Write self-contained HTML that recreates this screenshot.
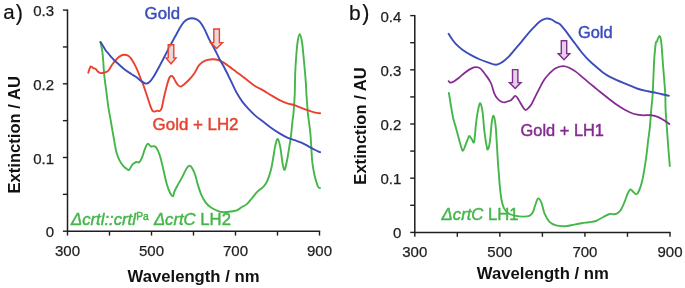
<!DOCTYPE html>
<html><head><meta charset="utf-8"><style>
html,body{margin:0;padding:0;background:#fff;}
svg{display:block;filter:blur(0.3px);}
text{font-family:"Liberation Sans",sans-serif;}
</style></head><body>
<svg width="685" height="288" viewBox="0 0 685 288">
<line x1="62.90" y1="231.20" x2="67.50" y2="231.20" stroke="#1e1e1e" stroke-width="1.4"/>
<line x1="62.90" y1="194.35" x2="67.50" y2="194.35" stroke="#1e1e1e" stroke-width="1.4"/>
<line x1="62.90" y1="157.50" x2="67.50" y2="157.50" stroke="#1e1e1e" stroke-width="1.4"/>
<line x1="62.90" y1="120.65" x2="67.50" y2="120.65" stroke="#1e1e1e" stroke-width="1.4"/>
<line x1="62.90" y1="83.80" x2="67.50" y2="83.80" stroke="#1e1e1e" stroke-width="1.4"/>
<line x1="62.90" y1="46.95" x2="67.50" y2="46.95" stroke="#1e1e1e" stroke-width="1.4"/>
<line x1="62.90" y1="10.10" x2="67.50" y2="10.10" stroke="#1e1e1e" stroke-width="1.4"/>
<text x="54.00" y="237.20" font-size="15" text-anchor="end" stroke="#1e1e1e" stroke-width="0.25" fill="#1e1e1e">0</text>
<text x="54.00" y="163.50" font-size="15" text-anchor="end" stroke="#1e1e1e" stroke-width="0.25" fill="#1e1e1e">0.1</text>
<text x="54.00" y="89.80" font-size="15" text-anchor="end" stroke="#1e1e1e" stroke-width="0.25" fill="#1e1e1e">0.2</text>
<text x="54.00" y="16.10" font-size="15" text-anchor="end" stroke="#1e1e1e" stroke-width="0.25" fill="#1e1e1e">0.3</text>
<line x1="67.50" y1="231.20" x2="67.50" y2="235.60" stroke="#1e1e1e" stroke-width="1.4"/>
<line x1="109.50" y1="231.20" x2="109.50" y2="235.60" stroke="#1e1e1e" stroke-width="1.4"/>
<line x1="151.50" y1="231.20" x2="151.50" y2="235.60" stroke="#1e1e1e" stroke-width="1.4"/>
<line x1="193.50" y1="231.20" x2="193.50" y2="235.60" stroke="#1e1e1e" stroke-width="1.4"/>
<line x1="235.50" y1="231.20" x2="235.50" y2="235.60" stroke="#1e1e1e" stroke-width="1.4"/>
<line x1="277.50" y1="231.20" x2="277.50" y2="235.60" stroke="#1e1e1e" stroke-width="1.4"/>
<line x1="319.50" y1="231.20" x2="319.50" y2="235.60" stroke="#1e1e1e" stroke-width="1.4"/>
<text x="67.50" y="256.00" font-size="15" text-anchor="middle" stroke="#1e1e1e" stroke-width="0.25" fill="#1e1e1e">300</text>
<text x="151.50" y="256.00" font-size="15" text-anchor="middle" stroke="#1e1e1e" stroke-width="0.25" fill="#1e1e1e">500</text>
<text x="235.50" y="256.00" font-size="15" text-anchor="middle" stroke="#1e1e1e" stroke-width="0.25" fill="#1e1e1e">700</text>
<text x="319.50" y="256.00" font-size="15" text-anchor="middle" stroke="#1e1e1e" stroke-width="0.25" fill="#1e1e1e">900</text>
<path d="M67.50 9.40 V231.20 H320.20" fill="none" stroke="#1e1e1e" stroke-width="1.5"/>
<text x="193.50" y="282.20" font-size="16.7" font-weight="bold" text-anchor="middle" fill="#111">Wavelength / nm</text>
<text transform="translate(20.20 134.80) rotate(-90)" font-size="16.6" font-weight="bold" text-anchor="middle" fill="#111">Extinction / AU</text>
<line x1="410.20" y1="232.40" x2="414.80" y2="232.40" stroke="#1e1e1e" stroke-width="1.4"/>
<line x1="410.20" y1="205.30" x2="414.80" y2="205.30" stroke="#1e1e1e" stroke-width="1.4"/>
<line x1="410.20" y1="178.20" x2="414.80" y2="178.20" stroke="#1e1e1e" stroke-width="1.4"/>
<line x1="410.20" y1="151.10" x2="414.80" y2="151.10" stroke="#1e1e1e" stroke-width="1.4"/>
<line x1="410.20" y1="124.00" x2="414.80" y2="124.00" stroke="#1e1e1e" stroke-width="1.4"/>
<line x1="410.20" y1="96.90" x2="414.80" y2="96.90" stroke="#1e1e1e" stroke-width="1.4"/>
<line x1="410.20" y1="69.80" x2="414.80" y2="69.80" stroke="#1e1e1e" stroke-width="1.4"/>
<line x1="410.20" y1="42.70" x2="414.80" y2="42.70" stroke="#1e1e1e" stroke-width="1.4"/>
<line x1="410.20" y1="15.60" x2="414.80" y2="15.60" stroke="#1e1e1e" stroke-width="1.4"/>
<text x="401.40" y="238.40" font-size="15" text-anchor="end" stroke="#1e1e1e" stroke-width="0.25" fill="#1e1e1e">0</text>
<text x="401.40" y="184.20" font-size="15" text-anchor="end" stroke="#1e1e1e" stroke-width="0.25" fill="#1e1e1e">0.1</text>
<text x="401.40" y="130.00" font-size="15" text-anchor="end" stroke="#1e1e1e" stroke-width="0.25" fill="#1e1e1e">0.2</text>
<text x="401.40" y="75.80" font-size="15" text-anchor="end" stroke="#1e1e1e" stroke-width="0.25" fill="#1e1e1e">0.3</text>
<text x="401.40" y="21.60" font-size="15" text-anchor="end" stroke="#1e1e1e" stroke-width="0.25" fill="#1e1e1e">0.4</text>
<line x1="414.80" y1="232.40" x2="414.80" y2="236.80" stroke="#1e1e1e" stroke-width="1.4"/>
<line x1="457.33" y1="232.40" x2="457.33" y2="236.80" stroke="#1e1e1e" stroke-width="1.4"/>
<line x1="499.87" y1="232.40" x2="499.87" y2="236.80" stroke="#1e1e1e" stroke-width="1.4"/>
<line x1="542.40" y1="232.40" x2="542.40" y2="236.80" stroke="#1e1e1e" stroke-width="1.4"/>
<line x1="584.93" y1="232.40" x2="584.93" y2="236.80" stroke="#1e1e1e" stroke-width="1.4"/>
<line x1="627.47" y1="232.40" x2="627.47" y2="236.80" stroke="#1e1e1e" stroke-width="1.4"/>
<line x1="670.00" y1="232.40" x2="670.00" y2="236.80" stroke="#1e1e1e" stroke-width="1.4"/>
<text x="414.80" y="257.40" font-size="15" text-anchor="middle" stroke="#1e1e1e" stroke-width="0.25" fill="#1e1e1e">300</text>
<text x="499.87" y="257.40" font-size="15" text-anchor="middle" stroke="#1e1e1e" stroke-width="0.25" fill="#1e1e1e">500</text>
<text x="584.93" y="257.40" font-size="15" text-anchor="middle" stroke="#1e1e1e" stroke-width="0.25" fill="#1e1e1e">700</text>
<text x="670.00" y="257.40" font-size="15" text-anchor="middle" stroke="#1e1e1e" stroke-width="0.25" fill="#1e1e1e">900</text>
<path d="M414.80 14.90 V232.40 H670.70" fill="none" stroke="#1e1e1e" stroke-width="1.5"/>
<text x="542.80" y="279.00" font-size="16.7" font-weight="bold" text-anchor="middle" fill="#111">Wavelength / nm</text>
<text transform="translate(366.20 126.00) rotate(-90)" font-size="16.6" font-weight="bold" text-anchor="middle" fill="#111">Extinction / AU</text>
<text x="3.2" y="19.2" font-size="20.5" fill="#111" stroke="#111" stroke-width="0.2">a<tspan dx="1.2" dy="0.3" font-size="21.5">)</tspan></text>
<text x="349.1" y="19.7" font-size="21" fill="#111" stroke="#111" stroke-width="0.2">b<tspan dx="1.5" dy="0.1" font-size="21.5">)</tspan></text>
<path d="M100.50 42.10 C100.80 43.63 101.83 47.98 102.30 51.30 C102.77 54.62 103.05 58.88 103.30 62.00 C103.55 65.12 103.56 67.05 103.80 70.00 C104.04 72.95 104.37 76.47 104.75 79.70 C105.13 82.93 105.67 86.15 106.10 89.40 C106.52 92.65 106.88 95.95 107.30 99.20 C107.72 102.45 108.08 105.67 108.60 108.90 C109.12 112.13 109.87 115.58 110.40 118.60 C110.93 121.62 111.32 124.22 111.80 127.00 C112.28 129.78 112.83 132.65 113.30 135.30 C113.77 137.95 114.07 140.03 114.60 142.90 C115.13 145.77 115.70 149.63 116.50 152.50 C117.30 155.37 118.28 157.88 119.40 160.10 C120.52 162.32 121.83 164.23 123.20 165.80 C124.57 167.37 126.60 168.83 127.60 169.50 C128.60 170.17 128.50 170.47 129.20 169.80 C129.90 169.13 131.07 166.53 131.80 165.50 C132.53 164.47 132.87 164.18 133.60 163.60 C134.33 163.02 135.25 162.23 136.20 162.00 C137.15 161.77 138.30 163.02 139.30 162.20 C140.30 161.38 141.35 159.07 142.20 157.10 C143.05 155.13 143.65 152.43 144.40 150.40 C145.15 148.37 146.07 146.00 146.70 144.90 C147.33 143.80 147.47 143.53 148.20 143.80 C148.93 144.07 150.13 146.10 151.10 146.50 C152.07 146.90 153.07 145.92 154.00 146.20 C154.93 146.48 155.70 146.57 156.70 148.20 C157.70 149.83 158.90 152.48 160.00 156.00 C161.10 159.52 162.18 164.67 163.30 169.30 C164.42 173.93 165.58 179.90 166.70 183.80 C167.82 187.70 168.95 190.62 170.00 192.70 C171.05 194.78 172.27 196.48 173.00 196.30 C173.73 196.12 173.60 193.50 174.40 191.60 C175.20 189.70 176.50 187.32 177.80 184.90 C179.10 182.48 180.72 179.88 182.20 177.10 C183.68 174.32 185.45 170.08 186.70 168.20 C187.95 166.32 188.78 165.80 189.70 165.80 C190.62 165.80 191.27 166.63 192.20 168.20 C193.13 169.77 194.40 172.58 195.30 175.20 C196.20 177.82 196.63 180.72 197.60 183.90 C198.57 187.08 199.80 191.27 201.10 194.30 C202.40 197.33 203.82 199.93 205.40 202.10 C206.98 204.27 208.57 205.85 210.60 207.30 C212.63 208.75 215.43 209.98 217.60 210.80 C219.77 211.62 221.58 212.05 223.60 212.20 C225.62 212.35 227.52 212.02 229.70 211.70 C231.88 211.38 234.67 211.08 236.70 210.30 C238.73 209.52 240.17 208.07 241.90 207.00 C243.63 205.93 245.37 205.43 247.10 203.90 C248.83 202.37 250.57 199.83 252.30 197.80 C254.03 195.77 255.77 193.43 257.50 191.70 C259.23 189.97 261.25 188.85 262.70 187.40 C264.15 185.95 265.18 184.75 266.20 183.00 C267.22 181.25 267.93 179.40 268.80 176.90 C269.67 174.40 270.60 171.57 271.40 168.00 C272.20 164.43 272.93 159.33 273.60 155.50 C274.27 151.67 274.70 147.77 275.40 145.00 C276.10 142.23 276.97 138.43 277.80 138.90 C278.63 139.37 279.60 143.70 280.40 147.80 C281.20 151.90 281.88 159.83 282.60 163.50 C283.32 167.17 283.92 170.55 284.70 169.80 C285.48 169.05 286.48 163.13 287.30 159.00 C288.12 154.87 289.00 148.72 289.60 145.00 C290.20 141.28 290.40 140.87 290.90 136.70 C291.40 132.53 292.18 123.73 292.60 120.00 C293.02 116.27 293.05 118.47 293.40 114.30 C293.75 110.13 294.40 101.78 294.70 95.00 C295.00 88.22 294.95 80.00 295.20 73.60 C295.45 67.20 295.80 61.87 296.20 56.60 C296.60 51.33 297.03 45.73 297.60 42.00 C298.17 38.27 298.87 34.20 299.60 34.20 C300.33 34.20 301.27 37.45 302.00 42.00 C302.73 46.55 303.38 55.02 304.00 61.50 C304.62 67.98 305.28 75.32 305.70 80.90 C306.12 86.48 306.12 89.43 306.50 95.00 C306.88 100.57 307.35 107.84 308.00 114.30 C308.65 120.76 309.72 126.13 310.40 133.75 C311.08 141.37 311.57 153.88 312.10 160.00 C312.63 166.12 313.07 167.45 313.60 170.50 C314.13 173.55 314.57 175.60 315.30 178.30 C316.03 181.00 317.22 185.08 318.00 186.70 C318.78 188.32 319.67 187.78 320.00 188.00" fill="none" stroke="#45b64a" stroke-width="1.90" stroke-linejoin="round" stroke-linecap="round"/>
<path d="M88.30 72.70 C88.60 71.80 89.60 68.32 90.10 67.30 C90.60 66.28 90.78 66.47 91.30 66.60 C91.82 66.73 92.50 67.73 93.20 68.10 C93.90 68.47 94.74 68.25 95.50 68.80 C96.26 69.35 96.87 70.68 97.75 71.40 C98.63 72.12 99.77 72.88 100.80 73.10 C101.83 73.32 102.63 73.12 103.90 72.70 C105.17 72.28 107.03 71.92 108.40 70.60 C109.77 69.28 110.62 66.83 112.10 64.80 C113.58 62.77 115.82 59.93 117.30 58.40 C118.78 56.87 119.83 56.22 121.00 55.60 C122.17 54.98 123.10 54.68 124.30 54.70 C125.50 54.72 127.03 55.00 128.20 55.70 C129.37 56.40 130.27 57.50 131.30 58.90 C132.33 60.30 133.45 62.37 134.40 64.10 C135.35 65.83 136.22 67.57 137.00 69.30 C137.78 71.03 138.40 72.72 139.10 74.50 C139.80 76.28 140.62 78.62 141.20 80.00 C141.78 81.38 141.93 81.05 142.60 82.80 C143.27 84.55 144.32 87.88 145.20 90.50 C146.08 93.12 147.02 95.85 147.90 98.50 C148.78 101.15 149.73 104.35 150.50 106.40 C151.27 108.45 151.72 109.97 152.50 110.80 C153.28 111.63 154.43 111.43 155.20 111.40 C155.97 111.37 156.33 110.67 157.10 110.60 C157.87 110.53 159.02 111.48 159.80 111.00 C160.58 110.52 161.15 109.78 161.80 107.70 C162.45 105.62 162.96 101.80 163.70 98.50 C164.44 95.20 165.48 90.88 166.25 87.90 C167.02 84.92 167.69 82.43 168.30 80.60 C168.91 78.77 169.37 77.68 169.90 76.90 C170.43 76.12 170.98 75.90 171.50 75.90 C172.02 75.90 172.40 76.12 173.00 76.90 C173.60 77.68 174.32 79.29 175.10 80.60 C175.88 81.91 176.83 83.75 177.70 84.75 C178.57 85.75 179.43 86.51 180.30 86.60 C181.17 86.69 181.95 85.95 182.90 85.30 C183.85 84.65 184.78 83.83 186.00 82.70 C187.22 81.57 188.80 80.07 190.20 78.50 C191.60 76.93 193.00 75.42 194.40 73.30 C195.80 71.18 197.28 67.65 198.60 65.80 C199.92 63.95 200.82 63.18 202.30 62.20 C203.78 61.22 205.63 60.40 207.50 59.90 C209.37 59.40 211.70 59.18 213.50 59.20 C215.30 59.22 216.92 59.60 218.30 60.00 C219.68 60.40 220.42 60.83 221.80 61.60 C223.18 62.37 224.98 63.50 226.60 64.60 C228.22 65.70 229.87 66.98 231.50 68.20 C233.13 69.42 234.78 70.70 236.40 71.90 C238.02 73.10 239.67 74.25 241.20 75.40 C242.73 76.55 243.30 77.03 245.60 78.80 C247.90 80.57 252.05 84.07 255.00 86.00 C257.95 87.93 260.52 88.80 263.30 90.40 C266.08 92.00 268.92 93.95 271.70 95.60 C274.48 97.25 277.40 99.00 280.00 100.30 C282.60 101.60 284.87 102.60 287.30 103.40 C289.73 104.20 292.17 104.30 294.60 105.10 C297.03 105.90 299.47 107.27 301.90 108.20 C304.33 109.13 306.98 109.97 309.20 110.70 C311.42 111.43 313.38 112.17 315.20 112.60 C317.02 113.03 319.28 113.18 320.10 113.30" fill="none" stroke="#e8422e" stroke-width="1.90" stroke-linejoin="round" stroke-linecap="round"/>
<path d="M100.50 42.10 C100.77 42.48 101.25 43.05 102.10 44.40 C102.95 45.75 104.50 48.60 105.60 50.20 C106.70 51.80 107.72 52.82 108.70 54.00 C109.68 55.18 110.62 56.30 111.50 57.30 C112.38 58.30 113.03 59.05 114.00 60.00 C114.97 60.95 115.63 61.52 117.30 63.00 C118.97 64.48 121.67 67.07 124.00 68.90 C126.33 70.73 129.22 72.62 131.30 74.00 C133.38 75.38 134.82 76.00 136.50 77.20 C138.18 78.40 139.83 80.13 141.40 81.20 C142.97 82.27 144.60 83.42 145.90 83.60 C147.20 83.78 147.98 83.35 149.20 82.30 C150.42 81.25 151.38 80.18 153.20 77.30 C155.02 74.42 157.82 69.22 160.10 65.00 C162.38 60.78 165.07 55.52 166.90 52.00 C168.73 48.48 169.70 46.52 171.10 43.90 C172.50 41.28 173.92 38.83 175.30 36.30 C176.68 33.77 178.02 31.02 179.40 28.70 C180.78 26.38 182.20 23.98 183.60 22.40 C185.00 20.82 186.42 19.90 187.80 19.20 C189.18 18.50 190.52 18.20 191.90 18.20 C193.28 18.20 194.70 18.50 196.10 19.20 C197.50 19.90 198.88 20.70 200.30 22.40 C201.72 24.10 203.12 26.57 204.60 29.40 C206.08 32.23 207.57 36.17 209.20 39.40 C210.83 42.62 212.67 45.45 214.40 48.75 C216.13 52.05 217.87 55.91 219.60 59.20 C221.33 62.49 223.07 65.20 224.80 68.50 C226.53 71.80 228.40 75.70 230.00 79.00 C231.60 82.30 233.02 85.53 234.40 88.30 C235.78 91.07 236.95 93.33 238.30 95.60 C239.65 97.87 240.76 99.63 242.50 101.90 C244.24 104.17 246.67 106.95 248.75 109.20 C250.83 111.45 252.57 113.32 255.00 115.40 C257.43 117.48 260.52 119.57 263.30 121.70 C266.08 123.83 268.92 126.22 271.70 128.20 C274.48 130.18 277.40 132.03 280.00 133.60 C282.60 135.17 284.87 136.50 287.30 137.60 C289.73 138.70 292.17 139.33 294.60 140.20 C297.03 141.07 299.47 141.70 301.90 142.80 C304.33 143.90 306.98 145.60 309.20 146.80 C311.42 148.00 313.38 149.10 315.20 150.00 C317.02 150.90 319.28 151.83 320.10 152.20" fill="none" stroke="#3a4dbb" stroke-width="1.90" stroke-linejoin="round" stroke-linecap="round"/>
<path d="M448.90 92.90 C449.22 94.92 450.08 100.75 450.80 105.00 C451.52 109.25 452.38 114.75 453.20 118.40 C454.02 122.05 454.80 123.67 455.70 126.90 C456.60 130.13 457.72 134.57 458.60 137.80 C459.48 141.03 460.27 144.15 461.00 146.30 C461.73 148.45 462.18 151.10 463.00 150.70 C463.82 150.30 465.02 146.05 465.90 143.90 C466.78 141.75 467.70 139.10 468.30 137.80 C468.90 136.50 468.88 135.82 469.50 136.10 C470.12 136.38 471.22 138.57 472.00 139.50 C472.78 140.43 473.52 144.48 474.20 141.70 C474.88 138.92 475.42 128.27 476.10 122.80 C476.78 117.33 477.60 112.15 478.30 108.90 C479.00 105.65 479.60 102.83 480.30 103.30 C481.00 103.77 481.82 107.07 482.50 111.70 C483.18 116.33 483.70 125.32 484.40 131.10 C485.10 136.88 486.10 143.38 486.70 146.40 C487.30 149.42 487.45 150.13 488.00 149.20 C488.55 148.27 489.38 145.20 490.00 140.80 C490.62 136.40 491.10 126.97 491.70 122.80 C492.30 118.63 492.95 115.33 493.60 115.80 C494.25 116.27 495.05 120.73 495.60 125.60 C496.15 130.47 496.52 138.93 496.90 145.00 C497.28 151.07 497.57 157.07 497.90 162.00 C498.23 166.93 498.53 170.07 498.90 174.60 C499.27 179.13 499.62 184.75 500.10 189.20 C500.58 193.65 501.12 198.07 501.80 201.30 C502.48 204.53 503.07 206.57 504.20 208.60 C505.33 210.63 506.65 212.28 508.60 213.50 C510.55 214.72 513.47 215.38 515.90 215.90 C518.33 216.42 520.98 216.60 523.20 216.60 C525.42 216.60 527.58 216.62 529.20 215.90 C530.82 215.18 531.88 214.12 532.90 212.30 C533.92 210.48 534.42 207.32 535.30 205.00 C536.18 202.68 537.18 198.82 538.20 198.40 C539.22 197.98 540.35 200.02 541.40 202.50 C542.45 204.98 543.15 210.08 544.50 213.30 C545.85 216.52 547.58 219.80 549.50 221.80 C551.42 223.80 553.58 224.57 556.00 225.30 C558.42 226.03 562.13 226.08 564.00 226.20 C565.87 226.32 565.47 226.27 567.20 226.00 C568.93 225.73 571.98 225.05 574.40 224.60 C576.82 224.15 579.28 223.70 581.70 223.30 C584.12 222.90 586.50 222.58 588.90 222.20 C591.30 221.82 593.70 221.87 596.10 221.00 C598.50 220.13 601.05 218.17 603.30 217.00 C605.55 215.83 607.78 214.45 609.60 214.00 C611.42 213.55 612.83 214.48 614.20 214.30 C615.57 214.12 616.60 213.80 617.80 212.90 C619.00 212.00 620.20 210.92 621.40 208.90 C622.60 206.88 623.95 203.37 625.00 200.80 C626.05 198.23 626.78 195.40 627.70 193.50 C628.62 191.60 629.60 189.70 630.50 189.40 C631.40 189.10 632.13 190.87 633.10 191.70 C634.07 192.53 635.33 194.52 636.30 194.40 C637.27 194.28 637.95 193.12 638.90 191.00 C639.85 188.88 641.02 185.68 642.00 181.70 C642.98 177.72 643.95 171.97 644.75 167.10 C645.55 162.23 646.22 157.02 646.80 152.50 C647.38 147.98 647.71 144.05 648.20 140.00 C648.69 135.95 649.23 133.35 649.75 128.20 C650.27 123.05 650.82 114.63 651.30 109.10 C651.77 103.57 652.13 102.93 652.60 95.00 C653.07 87.07 653.65 69.52 654.10 61.50 C654.55 53.48 654.97 50.15 655.30 46.90 C655.63 43.65 655.82 42.88 656.10 42.00 C656.38 41.12 656.72 42.10 657.00 41.60 C657.28 41.10 657.40 39.93 657.80 39.00 C658.20 38.07 658.88 35.90 659.40 36.00 C659.92 36.10 660.48 37.38 660.90 39.60 C661.32 41.82 661.53 44.85 661.90 49.30 C662.27 53.75 662.70 61.03 663.10 66.30 C663.50 71.57 663.93 76.12 664.30 80.90 C664.67 85.68 665.08 90.30 665.30 95.00 C665.52 99.70 665.33 103.57 665.60 109.10 C665.87 114.63 666.48 122.22 666.90 128.20 C667.32 134.18 667.80 140.95 668.10 145.00 C668.40 149.05 668.42 149.00 668.70 152.50 C668.98 156.00 669.62 163.75 669.80 166.00" fill="none" stroke="#45b64a" stroke-width="1.90" stroke-linejoin="round" stroke-linecap="round"/>
<path d="M448.60 81.10 C448.88 81.35 449.45 82.49 450.25 82.60 C451.05 82.71 452.01 82.52 453.40 81.75 C454.79 80.98 456.70 79.49 458.60 78.00 C460.50 76.51 462.72 74.37 464.80 72.80 C466.88 71.23 469.18 69.53 471.10 68.60 C473.02 67.67 474.73 67.20 476.30 67.20 C477.87 67.20 478.93 67.32 480.50 68.60 C482.07 69.88 483.97 72.50 485.70 74.90 C487.43 77.30 489.47 79.93 490.90 83.00 C492.32 86.07 493.17 90.72 494.25 93.30 C495.33 95.88 496.19 97.10 497.40 98.50 C498.61 99.90 500.28 101.07 501.50 101.70 C502.72 102.33 503.65 102.38 504.70 102.30 C505.75 102.22 506.83 101.53 507.80 101.25 C508.77 100.97 509.63 101.12 510.50 100.60 C511.37 100.07 512.23 98.90 513.00 98.10 C513.77 97.30 514.40 95.90 515.10 95.80 C515.80 95.70 516.33 96.35 517.20 97.50 C518.07 98.65 519.27 100.97 520.30 102.70 C521.33 104.43 522.53 106.68 523.40 107.90 C524.27 109.12 524.63 110.00 525.50 110.00 C526.37 110.00 527.56 108.94 528.60 107.90 C529.64 106.86 530.53 105.83 531.75 103.75 C532.97 101.67 534.51 98.18 535.90 95.40 C537.29 92.62 538.72 89.71 540.10 87.10 C541.48 84.49 542.65 82.02 544.20 79.75 C545.75 77.48 547.50 75.41 549.40 73.50 C551.30 71.59 553.35 69.52 555.60 68.30 C557.85 67.08 560.63 66.30 562.90 66.20 C565.17 66.10 567.12 66.83 569.20 67.70 C571.28 68.57 573.32 69.92 575.40 71.40 C577.48 72.88 579.62 74.87 581.70 76.60 C583.78 78.33 585.82 80.07 587.90 81.80 C589.98 83.53 592.18 85.33 594.20 87.00 C596.22 88.67 597.62 89.88 600.00 91.80 C602.38 93.72 605.70 96.33 608.50 98.50 C611.30 100.67 614.02 102.88 616.80 104.80 C619.58 106.72 622.42 108.51 625.20 110.00 C627.98 111.49 630.73 112.88 633.50 113.75 C636.27 114.62 639.02 114.96 641.80 115.20 C644.58 115.44 647.67 114.95 650.20 115.20 C652.73 115.45 654.92 115.97 657.00 116.70 C659.08 117.43 660.63 118.38 662.70 119.60 C664.77 120.82 668.28 123.27 669.40 124.00" fill="none" stroke="#852a92" stroke-width="1.75" stroke-linejoin="round" stroke-linecap="round"/>
<path d="M448.60 33.80 C449.22 34.75 450.98 37.68 452.30 39.50 C453.62 41.32 454.76 42.97 456.50 44.70 C458.24 46.43 460.32 48.17 462.75 49.90 C465.18 51.63 468.33 53.54 471.10 55.10 C473.88 56.66 476.62 58.03 479.40 59.25 C482.17 60.47 484.97 61.49 487.75 62.40 C490.53 63.31 493.68 64.75 496.10 64.70 C498.52 64.65 500.18 63.40 502.25 62.10 C504.32 60.80 506.42 58.98 508.50 56.90 C510.58 54.82 512.67 52.03 514.75 49.60 C516.83 47.17 518.92 44.80 521.00 42.30 C523.08 39.80 525.17 37.03 527.25 34.60 C529.33 32.17 531.42 29.88 533.50 27.70 C535.58 25.52 537.67 23.02 539.75 21.50 C541.83 19.98 544.09 18.95 546.00 18.60 C547.91 18.25 549.53 18.78 551.20 19.40 C552.87 20.02 554.53 21.48 556.00 22.30 C557.47 23.12 558.47 22.95 560.00 24.30 C561.53 25.65 563.47 28.22 565.20 30.40 C566.93 32.58 568.67 35.08 570.40 37.40 C572.13 39.72 573.87 41.99 575.60 44.30 C577.33 46.61 579.07 49.08 580.80 51.25 C582.53 53.42 584.26 55.42 586.00 57.30 C587.74 59.17 589.37 60.77 591.25 62.50 C593.13 64.23 595.47 66.12 597.30 67.70 C599.13 69.28 600.38 70.60 602.25 72.00 C604.12 73.40 606.08 74.75 608.50 76.10 C610.92 77.45 613.67 78.72 616.80 80.10 C619.92 81.48 623.77 82.96 627.25 84.40 C630.73 85.84 634.23 87.60 637.70 88.75 C641.18 89.90 645.05 90.61 648.10 91.30 C651.15 91.99 653.68 92.40 656.00 92.90 C658.32 93.40 659.87 93.83 662.00 94.30 C664.13 94.77 667.67 95.47 668.80 95.70" fill="none" stroke="#3a4dbb" stroke-width="1.90" stroke-linejoin="round" stroke-linecap="round"/>
<polygon points="168.20,44.80 173.80,44.80 173.80,57.90 176.00,57.90 171.00,63.80 166.00,57.90 168.20,57.90" fill="rgba(222,188,188,0.6)" stroke="#e8422e" stroke-width="1.40" stroke-linejoin="miter"/>
<polygon points="213.80,29.00 219.40,29.00 219.40,42.60 222.60,42.60 216.60,48.60 210.60,42.60 213.80,42.60" fill="rgba(222,188,188,0.6)" stroke="#e8422e" stroke-width="1.40" stroke-linejoin="miter"/>
<polygon points="512.50,69.60 517.90,69.60 517.90,82.60 521.00,82.60 515.20,88.60 509.40,82.60 512.50,82.60" fill="rgba(205,180,217,0.6)" stroke="#852a92" stroke-width="1.40" stroke-linejoin="miter"/>
<polygon points="561.30,40.80 566.70,40.80 566.70,53.60 569.80,53.60 564.00,59.80 558.20,53.60 561.30,53.60" fill="rgba(205,180,217,0.6)" stroke="#852a92" stroke-width="1.40" stroke-linejoin="miter"/>
<text x="144.6" y="19.0" font-size="16.8" fill="#3a4dbb" stroke="#3a4dbb" stroke-width="0.45" >Gold</text>
<text x="152.6" y="130.0" font-size="16.9" fill="#e8422e" stroke="#e8422e" stroke-width="0.45" >Gold + LH2</text>
<text x="71.0" y="225.4" font-size="16.7" fill="#45b64a" stroke="#45b64a" stroke-width="0.45" ><tspan font-style="italic">Δcrtl::crtl</tspan><tspan font-size="10.2" dx="0.2" dy="-5.4">Pa</tspan><tspan dy="5.4" dx="0.6"> </tspan><tspan font-style="italic">ΔcrtC</tspan> LH2</text>
<text x="578.0" y="38.4" font-size="16.4" fill="#3a4dbb" stroke="#3a4dbb" stroke-width="0.45" >Gold</text>
<text x="520.6" y="136.0" font-size="16.4" fill="#852a92" stroke="#852a92" stroke-width="0.45" >Gold + LH1</text>
<text x="441.6" y="220.2" font-size="16.7" fill="#45b64a" stroke="#45b64a" stroke-width="0.45" ><tspan font-style="italic">ΔcrtC</tspan> LH1</text>
</svg></body></html>
